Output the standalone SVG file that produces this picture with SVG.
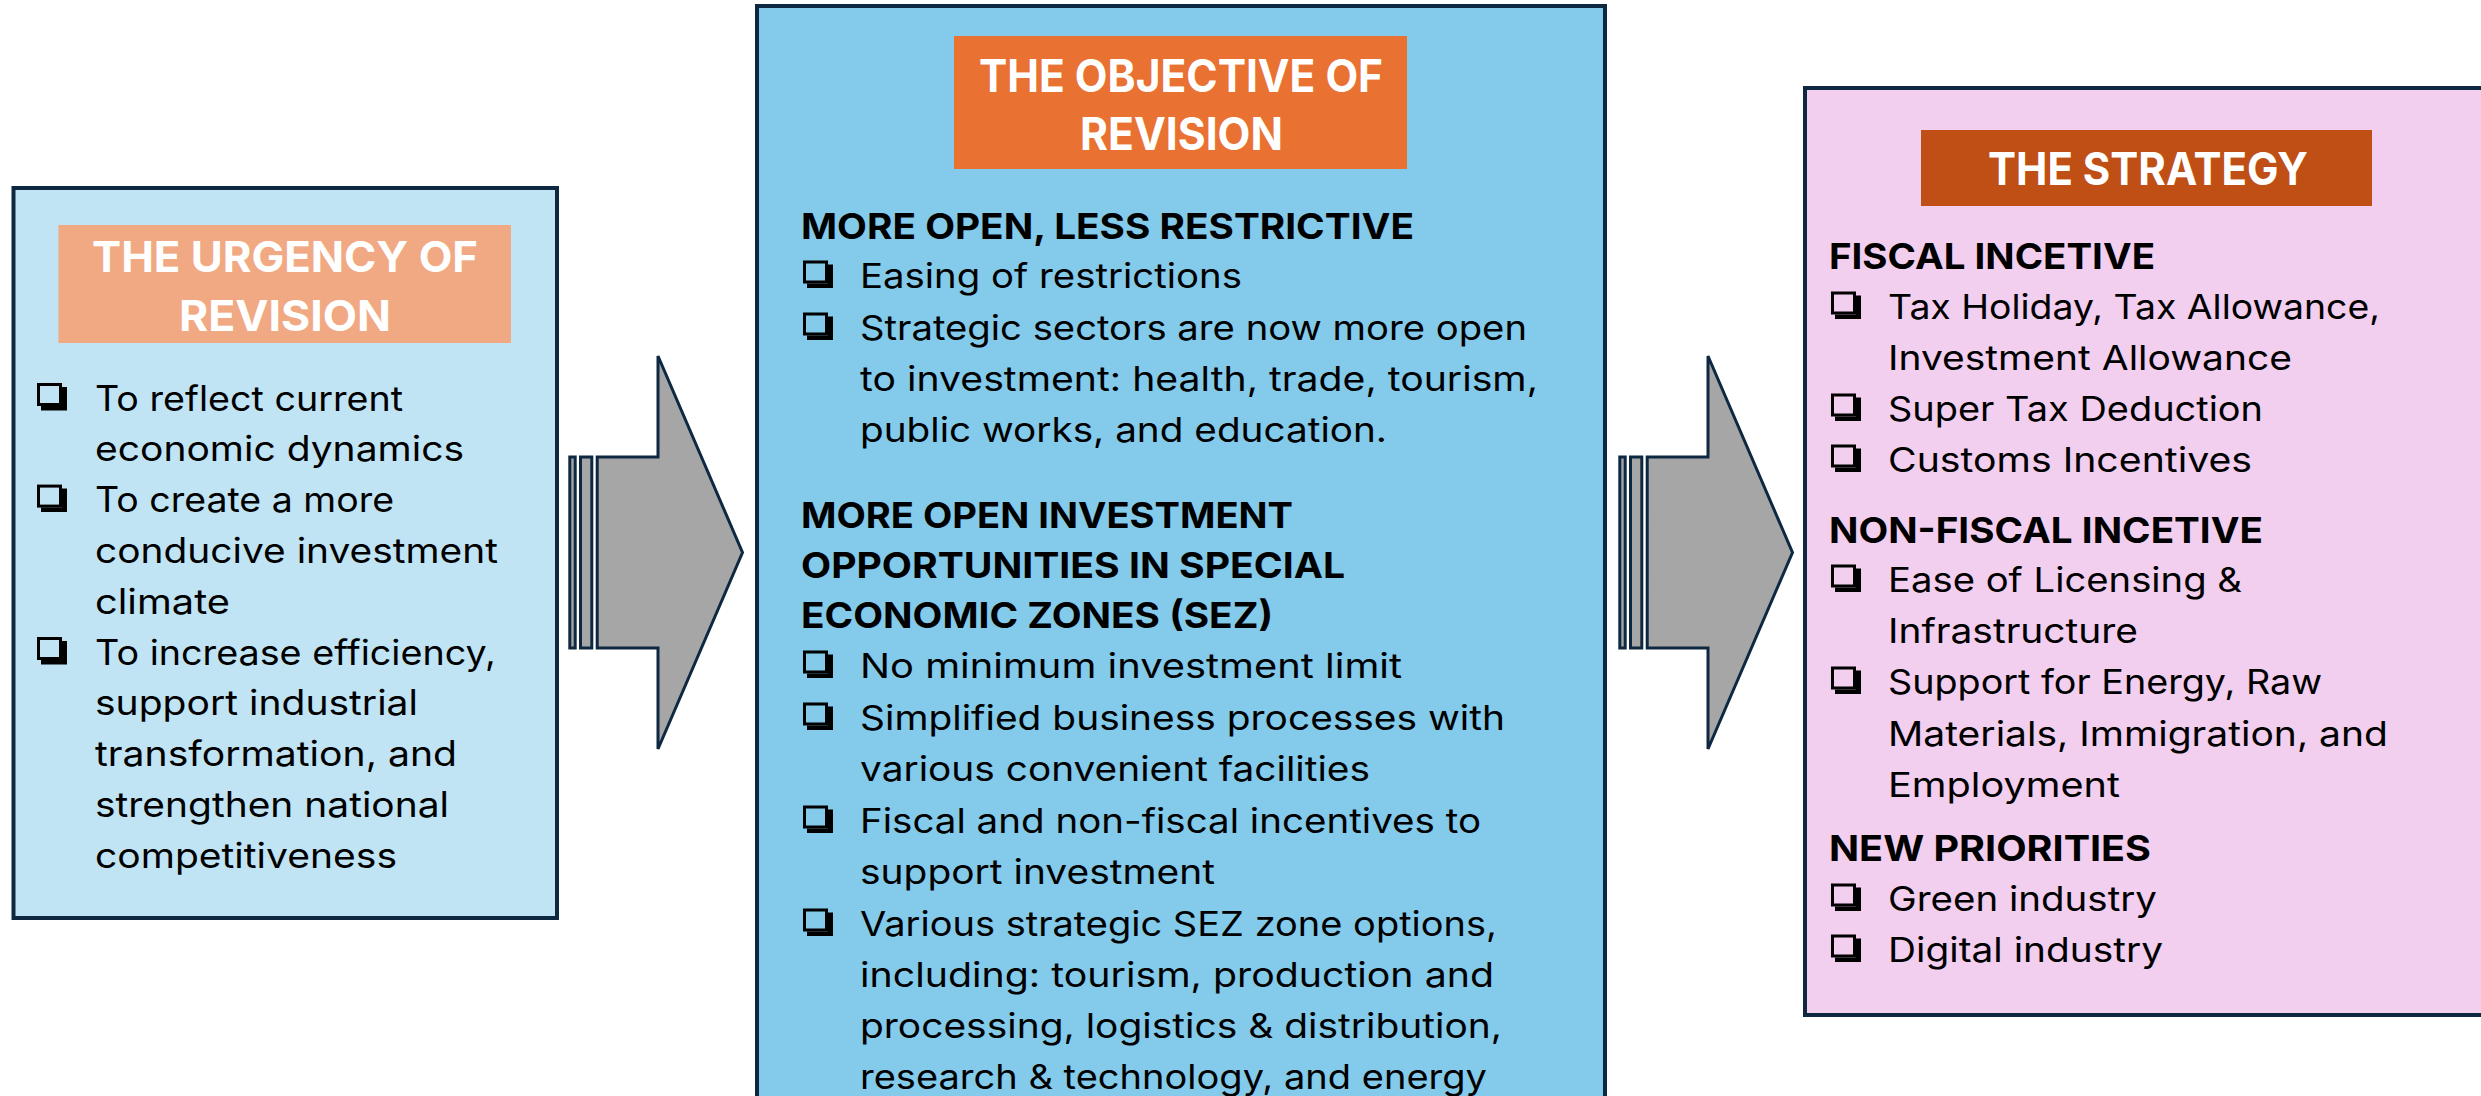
<svg xmlns="http://www.w3.org/2000/svg" xmlns:xlink="http://www.w3.org/1999/xlink" width="2481" height="1096" viewBox="0 0 2481 1096">
<style>
.panel{stroke:#0E2841;stroke-width:4}
.arrow{fill:#A6A6A6;stroke:#0E2841;stroke-width:3;stroke-linejoin:miter}
.ttl{font-family:Inter,"Liberation Sans",sans-serif;font-weight:700;fill:#FFFFFF}
.t{font-family:Inter,"Liberation Sans",sans-serif;font-size:34px;fill:#000}
.tl{font-family:Inter,"Liberation Sans",sans-serif;font-size:35px;fill:#000}
.h{font-family:Inter,"Liberation Sans",sans-serif;font-size:36px;font-weight:700;fill:#000}
</style>
<defs>
<g id="bx">
<rect x="1.5" y="1.5" width="22" height="20" fill="none" stroke="#000" stroke-width="3"/>
<path d="M25,4 H30 V27.5 H4 V23 H25 Z" fill="#000"/>
</g>
</defs>
<rect width="2481" height="1096" fill="#FFFFFF"/>

<g id="urgency">
<rect class="panel" x="13.5" y="188" width="543.5" height="730" fill="#C0E4F4"/>
<rect x="58.5" y="225" width="452.5" height="118" fill="#F1A983"/>
<text class="ttl" x="92" y="272" font-size="43" textLength="386" lengthAdjust="spacingAndGlyphs">THE URGENCY OF</text>
<text class="ttl" x="179" y="331" font-size="43" textLength="212" lengthAdjust="spacingAndGlyphs">REVISION</text>
<use xlink:href="#bx" x="37" y="383"/>
<use xlink:href="#bx" x="37" y="484.6"/>
<use xlink:href="#bx" x="37" y="637"/>
<text class="tl" x="95" y="410.5" textLength="308" lengthAdjust="spacingAndGlyphs">To reflect current</text>
<text class="tl" x="95" y="461.3" textLength="369" lengthAdjust="spacingAndGlyphs">economic dynamics</text>
<text class="tl" x="95" y="512.1" textLength="299" lengthAdjust="spacingAndGlyphs">To create a more</text>
<text class="tl" x="95" y="562.9" textLength="403" lengthAdjust="spacingAndGlyphs">conducive investment</text>
<text class="tl" x="95" y="613.7" textLength="135" lengthAdjust="spacingAndGlyphs">climate</text>
<text class="tl" x="95" y="664.5" textLength="401" lengthAdjust="spacingAndGlyphs">To increase efficiency,</text>
<text class="tl" x="95" y="715.3" textLength="323" lengthAdjust="spacingAndGlyphs">support industrial</text>
<text class="tl" x="95" y="766.1" textLength="362" lengthAdjust="spacingAndGlyphs">transformation, and</text>
<text class="tl" x="95" y="816.9" textLength="354" lengthAdjust="spacingAndGlyphs">strengthen national</text>
<text class="tl" x="95" y="867.7" textLength="302" lengthAdjust="spacingAndGlyphs">competitiveness</text>
</g>

<g id="objective">
<rect class="panel" x="757" y="6" width="848" height="1110" fill="#83CAEB"/>
<rect x="954" y="36" width="453" height="133" fill="#E97132"/>
<text class="ttl" x="979" y="92" font-size="45" textLength="404" lengthAdjust="spacingAndGlyphs">THE OBJECTIVE OF</text>
<text class="ttl" x="1080" y="150" font-size="45" textLength="203" lengthAdjust="spacingAndGlyphs">REVISION</text>
<text class="h" x="801" y="239" textLength="613" lengthAdjust="spacingAndGlyphs">MORE OPEN, LESS RESTRICTIVE</text>
<use xlink:href="#bx" x="803" y="260.5"/>
<text class="t" x="860" y="288" textLength="382" lengthAdjust="spacingAndGlyphs">Easing of restrictions</text>
<use xlink:href="#bx" x="803" y="312.5"/>
<text class="t" x="860" y="340" textLength="667" lengthAdjust="spacingAndGlyphs">Strategic sectors are now more open</text>
<text class="t" x="860" y="391" textLength="678" lengthAdjust="spacingAndGlyphs">to investment: health, trade, tourism,</text>
<text class="t" x="860" y="442" textLength="527" lengthAdjust="spacingAndGlyphs">public works, and education.</text>
<text class="h" x="801" y="528" textLength="492" lengthAdjust="spacingAndGlyphs">MORE OPEN INVESTMENT</text>
<text class="h" x="801" y="578" textLength="544" lengthAdjust="spacingAndGlyphs">OPPORTUNITIES IN SPECIAL</text>
<text class="h" x="801" y="628" textLength="472" lengthAdjust="spacingAndGlyphs">ECONOMIC ZONES (SEZ)</text>
<use xlink:href="#bx" x="803" y="650.5"/>
<text class="t" x="860" y="678" textLength="542" lengthAdjust="spacingAndGlyphs">No minimum investment limit</text>
<use xlink:href="#bx" x="803" y="702.5"/>
<text class="t" x="860" y="730" textLength="645" lengthAdjust="spacingAndGlyphs">Simplified business processes with</text>
<text class="t" x="860" y="781" textLength="510" lengthAdjust="spacingAndGlyphs">various convenient facilities</text>
<use xlink:href="#bx" x="803" y="805.5"/>
<text class="t" x="860" y="833" textLength="621" lengthAdjust="spacingAndGlyphs">Fiscal and non-fiscal incentives to</text>
<text class="t" x="860" y="884" textLength="355" lengthAdjust="spacingAndGlyphs">support investment</text>
<use xlink:href="#bx" x="803" y="908.5"/>
<text class="t" x="860" y="936" textLength="637" lengthAdjust="spacingAndGlyphs">Various strategic SEZ zone options,</text>
<text class="t" x="860" y="987" textLength="634" lengthAdjust="spacingAndGlyphs">including: tourism, production and</text>
<text class="t" x="860" y="1038" textLength="642" lengthAdjust="spacingAndGlyphs">processing, logistics &amp; distribution,</text>
<text class="t" x="860" y="1089" textLength="627" lengthAdjust="spacingAndGlyphs">research &amp; technology, and energy</text>
</g>

<g id="strategy">
<rect class="panel" x="1805" y="88" width="700" height="927" fill="#F2CEEF"/>
<rect x="1921" y="130" width="451" height="76" fill="#C04F15"/>
<text class="ttl" x="1988" y="185" font-size="45" textLength="320" lengthAdjust="spacingAndGlyphs">THE STRATEGY</text>
<text class="h" x="1829" y="269" textLength="326" lengthAdjust="spacingAndGlyphs">FISCAL INCETIVE</text>
<use xlink:href="#bx" x="1831" y="291.5"/>
<text class="t" x="1888" y="319" textLength="492" lengthAdjust="spacingAndGlyphs">Tax Holiday, Tax Allowance,</text>
<text class="t" x="1888" y="370" textLength="404" lengthAdjust="spacingAndGlyphs">Investment Allowance</text>
<use xlink:href="#bx" x="1831" y="393.5"/>
<text class="t" x="1888" y="421" textLength="375" lengthAdjust="spacingAndGlyphs">Super Tax Deduction</text>
<use xlink:href="#bx" x="1831" y="444.5"/>
<text class="t" x="1888" y="472" textLength="364" lengthAdjust="spacingAndGlyphs">Customs Incentives</text>
<text class="h" x="1829" y="543" textLength="434" lengthAdjust="spacingAndGlyphs">NON-FISCAL INCETIVE</text>
<use xlink:href="#bx" x="1831" y="564.5"/>
<text class="t" x="1888" y="592" textLength="354" lengthAdjust="spacingAndGlyphs">Ease of Licensing &amp;</text>
<text class="t" x="1888" y="643" textLength="250" lengthAdjust="spacingAndGlyphs">Infrastructure</text>
<use xlink:href="#bx" x="1831" y="666.5"/>
<text class="t" x="1888" y="694" textLength="434" lengthAdjust="spacingAndGlyphs">Support for Energy, Raw</text>
<text class="t" x="1888" y="746" textLength="500" lengthAdjust="spacingAndGlyphs">Materials, Immigration, and</text>
<text class="t" x="1888" y="797" textLength="232" lengthAdjust="spacingAndGlyphs">Employment</text>
<text class="h" x="1829" y="861" textLength="322" lengthAdjust="spacingAndGlyphs">NEW PRIORITIES</text>
<use xlink:href="#bx" x="1831" y="883.5"/>
<text class="t" x="1888" y="911" textLength="269" lengthAdjust="spacingAndGlyphs">Green industry</text>
<use xlink:href="#bx" x="1831" y="934.5"/>
<text class="t" x="1888" y="962" textLength="275" lengthAdjust="spacingAndGlyphs">Digital industry</text>
</g>

<g id="connectors">
<g id="arrow1">
<rect class="arrow" x="569.8" y="457" width="5.4" height="191"/>
<rect class="arrow" x="580.5" y="457" width="11.3" height="191"/>
<path class="arrow" d="M597.2,457 H658 V356 L742.5,552.5 L658,749 V648 H597.2 Z"/>
</g>
<g id="arrow2">
<rect class="arrow" x="1619.8" y="457" width="5.4" height="191"/>
<rect class="arrow" x="1630.5" y="457" width="11.3" height="191"/>
<path class="arrow" d="M1647.2,457 H1708 V356 L1792.5,552.5 L1708,749 V648 H1647.2 Z"/>
</g>
</g>
</svg>
